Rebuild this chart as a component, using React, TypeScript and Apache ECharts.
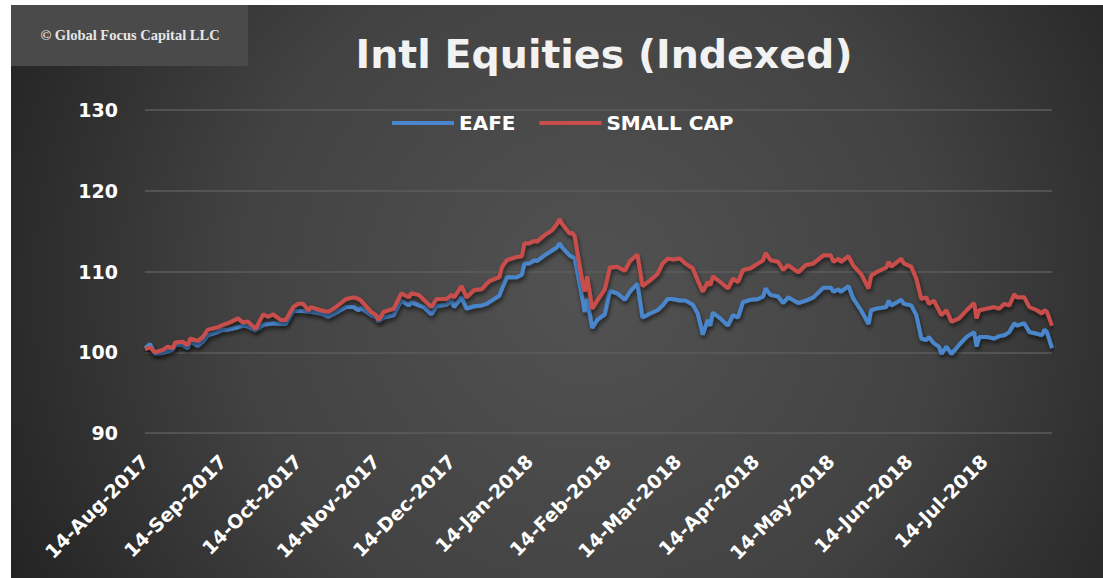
import React, { useEffect, useRef } from "react";
import * as echarts from "echarts";

const chartTitle = "Intl Equities (Indexed)";
const watermark = "© Global Focus Capital LLC";
const seriesNames = ["EAFE", "SMALL CAP"];
const yMin = 90;
const yMax = 130;
const yStep = 10;
const startDate = "2017-08-14";
const endDate = "2018-08-10";
const lastLabelDate = "2018-07-14";
const monthNames = ["Jan", "Feb", "Mar", "Apr", "May", "Jun", "Jul", "Aug", "Sep", "Oct", "Nov", "Dec"];

const dates = [
  "2017-08-14", "2017-08-16", "2017-08-18", "2017-08-21", "2017-08-23", "2017-08-25", "2017-08-26", "2017-08-29",
  "2017-08-31", "2017-09-01", "2017-09-04", "2017-09-06", "2017-09-08", "2017-09-12", "2017-09-14", "2017-09-16",
  "2017-09-20", "2017-09-22", "2017-09-24", "2017-09-27", "2017-09-30", "2017-10-02", "2017-10-04", "2017-10-07",
  "2017-10-09", "2017-10-12", "2017-10-14", "2017-10-16", "2017-10-18", "2017-10-19", "2017-10-23", "2017-10-26",
  "2017-10-29", "2017-11-02", "2017-11-05", "2017-11-07", "2017-11-08", "2017-11-12", "2017-11-14", "2017-11-15",
  "2017-11-17", "2017-11-21", "2017-11-24", "2017-11-27", "2017-11-28", "2017-12-01", "2017-12-03", "2017-12-06",
  "2017-12-08", "2017-12-12", "2017-12-14", "2017-12-15", "2017-12-18", "2017-12-20", "2017-12-23", "2017-12-26",
  "2017-12-28", "2017-12-29", "2018-01-02", "2018-01-03", "2018-01-05", "2018-01-09", "2018-01-11", "2018-01-12",
  "2018-01-14", "2018-01-16", "2018-01-17", "2018-01-20", "2018-01-23", "2018-01-25", "2018-01-26", "2018-01-27",
  "2018-01-30", "2018-01-31", "2018-02-01", "2018-02-04", "2018-02-05", "2018-02-06", "2018-02-08", "2018-02-10",
  "2018-02-13", "2018-02-15", "2018-02-18", "2018-02-21", "2018-02-23", "2018-02-26", "2018-02-28", "2018-03-03",
  "2018-03-06", "2018-03-08", "2018-03-10", "2018-03-12", "2018-03-15", "2018-03-17", "2018-03-20", "2018-03-22",
  "2018-03-24", "2018-03-26", "2018-03-27", "2018-03-28", "2018-03-31", "2018-04-03", "2018-04-05", "2018-04-07",
  "2018-04-09", "2018-04-12", "2018-04-15", "2018-04-17", "2018-04-18", "2018-04-20", "2018-04-23", "2018-04-25",
  "2018-04-27", "2018-05-01", "2018-05-04", "2018-05-07", "2018-05-11", "2018-05-14", "2018-05-15", "2018-05-17",
  "2018-05-18", "2018-05-21", "2018-05-23", "2018-05-26", "2018-05-29", "2018-05-30", "2018-06-01", "2018-06-05",
  "2018-06-06", "2018-06-07", "2018-06-11", "2018-06-12", "2018-06-15", "2018-06-17", "2018-06-19", "2018-06-21",
  "2018-06-22", "2018-06-24", "2018-06-26", "2018-06-27", "2018-06-29", "2018-07-01", "2018-07-04", "2018-07-07",
  "2018-07-10", "2018-07-11", "2018-07-12", "2018-07-15", "2018-07-18", "2018-07-20", "2018-07-22", "2018-07-24",
  "2018-07-26", "2018-07-27", "2018-07-30", "2018-08-01", "2018-08-04", "2018-08-06", "2018-08-07", "2018-08-08",
  "2018-08-10",
];

const eafe = [
  100.5, 101.0, 99.8, 99.9, 100.1, 100.3, 100.9, 100.9,
  100.5, 101.3, 100.8, 101.3, 102.1, 102.5, 102.8, 102.8,
  103.1, 103.3, 103.2, 102.7, 103.4, 103.5, 103.6, 103.5,
  103.5, 105.1, 105.1, 105.1, 105.0, 105.0, 104.8, 104.4,
  104.9, 105.6, 105.6, 105.2, 105.5, 104.6, 104.3, 103.8,
  104.3, 104.6, 106.4, 105.8, 106.2, 105.8, 105.6, 104.7,
  105.7, 105.9, 106.4, 105.6, 106.8, 105.4, 105.7, 105.8,
  106.0, 106.2, 107.0, 107.8, 109.3, 109.3, 109.6, 111.0,
  111.0, 111.4, 111.3, 112.0, 112.6, 113.0, 113.5, 113.0,
  112.0, 111.8, 111.7, 106.8, 105.0, 106.6, 103.0, 104.0,
  104.7, 107.6, 107.3, 106.5, 107.5, 108.5, 104.3, 104.8,
  105.2, 105.8, 106.6, 106.6, 106.4, 106.4, 105.9, 104.8,
  102.2, 104.0, 103.3, 104.9, 104.2, 103.3, 104.6, 104.3,
  106.2, 106.5, 106.6, 106.9, 107.9, 107.1, 106.9, 106.1,
  106.8, 106.1, 106.4, 106.8, 108.0, 108.0, 107.5, 107.8,
  107.5, 108.2, 106.6, 105.2, 103.5, 105.2, 105.4, 105.6,
  106.4, 105.8, 106.5, 106.0, 105.8, 104.6, 101.7, 101.5,
  101.9, 101.1, 100.7, 99.8, 100.7, 99.8, 100.9, 101.9,
  102.5, 100.7, 101.9, 101.9, 101.7, 102.0, 102.1, 102.5,
  103.6, 103.3, 103.6, 102.5, 102.3, 102.1, 102.8, 102.5,
  100.5,
];

const smallCap = [
  100.4, 100.6, 100.0, 100.3, 100.7, 100.5, 101.2, 101.3,
  100.9, 101.7, 101.4, 101.9, 102.8, 103.1, 103.4, 103.6,
  104.2, 103.7, 103.8, 102.9, 104.7, 104.4, 104.7, 104.0,
  104.0, 105.6, 106.0, 106.0, 105.2, 105.6, 105.2, 105.0,
  105.6, 106.6, 106.8, 106.6, 106.4, 105.0, 104.6, 104.0,
  105.0, 105.4, 107.3, 106.8, 107.3, 107.1, 106.5, 105.6,
  106.6, 106.6, 107.1, 106.8, 108.2, 106.8, 107.7, 107.8,
  108.5, 108.8, 109.3, 110.5, 111.4, 111.8, 111.9, 113.5,
  113.5, 113.8, 113.7, 114.5, 115.1, 115.9, 116.5, 115.9,
  114.7, 114.8, 114.4, 108.9, 107.5, 109.4, 105.4, 106.4,
  107.8, 110.5, 110.6, 110.1, 111.3, 112.1, 108.2, 108.9,
  109.7, 111.0, 111.6, 111.5, 111.6, 111.0, 110.4, 108.9,
  107.5, 108.7, 108.3, 109.4, 108.7, 107.9, 109.1, 108.7,
  110.2, 110.4, 111.0, 111.4, 112.3, 111.4, 111.2, 110.2,
  110.8, 109.9, 110.8, 111.0, 112.0, 112.0, 111.2, 111.6,
  111.2, 111.9, 110.7, 109.7, 107.9, 109.5, 109.9, 110.5,
  111.2, 110.6, 111.6, 111.0, 110.6, 109.1, 106.6, 106.8,
  106.0, 106.4, 105.2, 104.6, 105.2, 103.8, 104.2, 105.2,
  106.1, 104.2, 105.2, 105.4, 105.6, 105.4, 106.0, 105.8,
  107.2, 106.8, 106.8, 105.6, 105.2, 104.8, 105.2, 105.0,
  103.3,
];

const DAY_MS = 86400000;
const t0 = Date.parse(startDate);
const toDay = (s: string) => Math.round((Date.parse(s) - t0) / DAY_MS);
const totalDays = toDay(endDate);
const lastLabelDay = toDay(lastLabelDate);

export default function App() {
  const ref = useRef<HTMLDivElement>(null);

  useEffect(() => {
    if (!ref.current) return;
    const chart = echarts.init(ref.current, null, { renderer: "svg" });
    const mkData = (vals: number[]) => dates.map((d, i) => [toDay(d), vals[i]]);
    const lineShadow = {
      shadowBlur: 4,
      shadowColor: "rgba(0,0,0,0.6)",
      shadowOffsetX: 1,
      shadowOffsetY: 3,
    };
    chart.setOption({
      animation: false,
      backgroundColor: "#ffffff",
      graphic: [
        {
          type: "rect",
          z: -10,
          silent: true,
          shape: { x: 11, y: 5, width: 1092, height: 573 },
          style: {
            fill: new echarts.graphic.RadialGradient(
              590,
              290,
              640,
              [
                { offset: 0, color: "#525252" },
                { offset: 0.55, color: "#424242" },
                { offset: 1, color: "#242424" },
              ],
              true
            ),
          },
        },
        {
          type: "rect",
          z: -9,
          silent: true,
          shape: { x: 11, y: 5, width: 237, height: 61 },
          style: { fill: "#4a4a4a" },
        },
        {
          type: "text",
          z: 50,
          silent: true,
          style: {
            text: watermark,
            x: 130,
            y: 35,
            textAlign: "center",
            textVerticalAlign: "middle",
            font: 'bold 14.5px "Liberation Serif"',
            fill: "#e6e6e6",
          },
        },
        {
          type: "text",
          z: 50,
          silent: true,
          style: {
            text: chartTitle,
            x: 604,
            y: 54,
            textAlign: "center",
            textVerticalAlign: "middle",
            font: 'bold 39.5px "DejaVu Sans"',
            fill: "#f2f2f2",
            shadowBlur: 4,
            shadowColor: "rgba(0,0,0,0.7)",
            shadowOffsetX: 2,
            shadowOffsetY: 2,
          },
        },
      ],
      legend: {
        left: 387,
        top: 108,
        itemWidth: 62,
        itemHeight: 4,
        itemGap: 24,
        icon: "rect",
        textStyle: {
          color: "#ffffff",
          fontFamily: "DejaVu Sans",
          fontWeight: "bold",
          fontSize: 20,
        },
        data: seriesNames,
      },
      grid: { left: 145, right: 51, top: 110, bottom: 145 },
      xAxis: {
        type: "value",
        min: 0,
        max: totalDays,
        interval: 1,
        axisLine: { show: false },
        axisTick: { show: false },
        splitLine: { show: false },
        axisLabel: {
          rotate: 45,
          margin: 25,
          color: "#ffffff",
          fontFamily: "DejaVu Sans",
          fontWeight: "bold",
          fontSize: 19,
          showMinLabel: true,
          showMaxLabel: true,
          formatter: (v: number) => {
            const d = new Date(t0 + v * DAY_MS);
            if (d.getUTCDate() !== 14 || v > lastLabelDay) return "";
            return `14-${monthNames[d.getUTCMonth()]}-${d.getUTCFullYear()}`;
          },
        },
      },
      yAxis: {
        type: "value",
        min: yMin,
        max: yMax,
        interval: yStep,
        axisLine: { show: false },
        axisTick: { show: false },
        axisLabel: {
          margin: 27,
          color: "#ffffff",
          fontFamily: "DejaVu Sans",
          fontWeight: "bold",
          fontSize: 19,
        },
        splitLine: { lineStyle: { color: "#5c5c5c", width: 1.5 } },
      },
      series: [
        {
          name: seriesNames[0],
          type: "line",
          data: mkData(eafe),
          showSymbol: false,
          symbol: "none",
          color: "#4a86cc",
          lineStyle: { width: 4, color: "#4a86cc", ...lineShadow },
        },
        {
          name: seriesNames[1],
          type: "line",
          data: mkData(smallCap),
          showSymbol: false,
          symbol: "none",
          color: "#c84e4c",
          lineStyle: { width: 4, color: "#c84e4c", ...lineShadow },
        },
      ],
    });
    return () => chart.dispose();
  }, []);

  return (
    <div
      ref={ref}
      style={{ position: "absolute", left: 0, top: 0, width: 1103, height: 578 }}
    />
  );
}
